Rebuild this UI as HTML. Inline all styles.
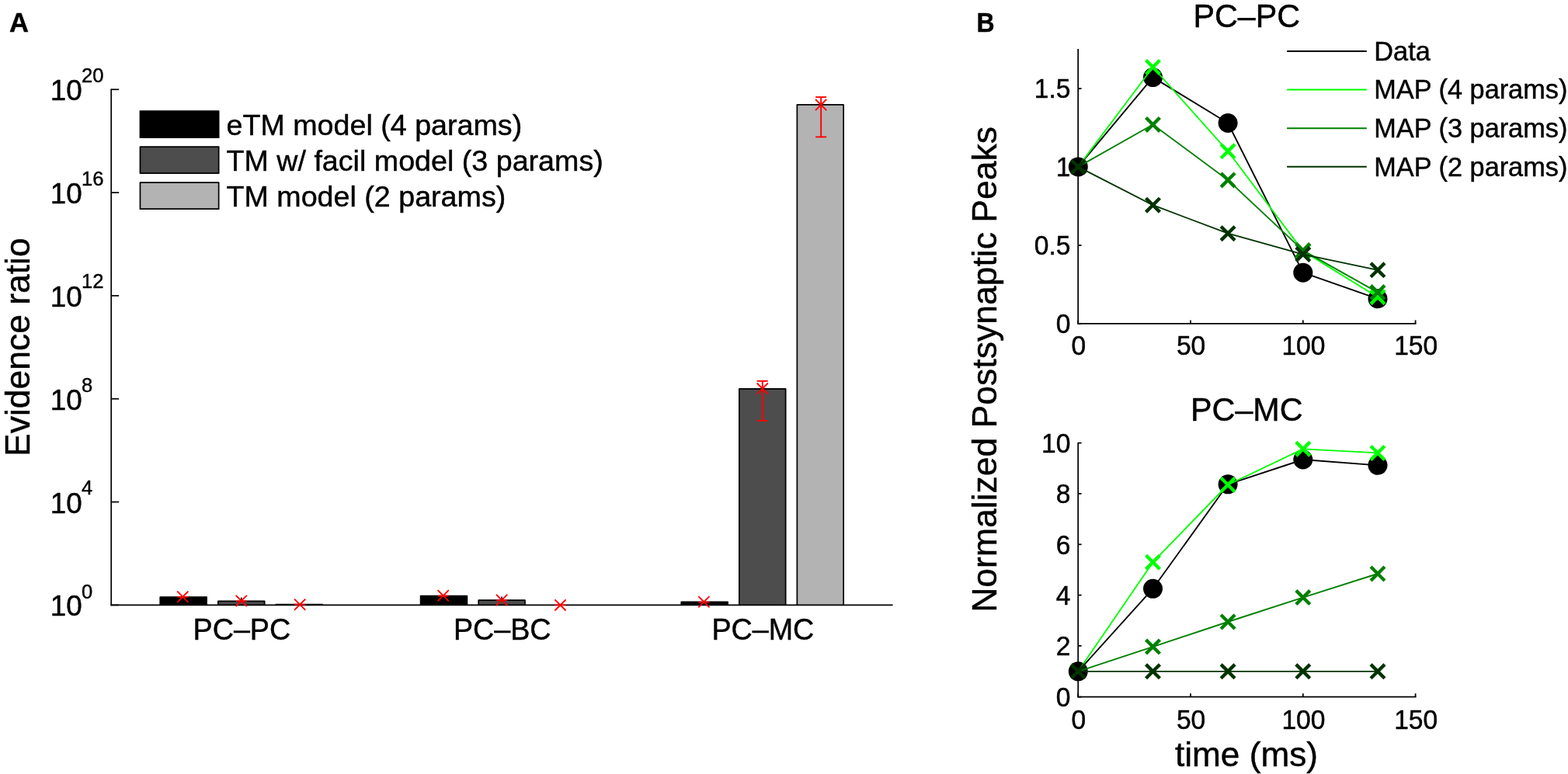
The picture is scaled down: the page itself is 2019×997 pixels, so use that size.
<!DOCTYPE html>
<html lang="en">
<head>
<meta charset="utf-8">
<title>Evidence ratio and MAP fits</title>
<style>
html,body{margin:0;padding:0;background:#fff;}
body{width:2019px;height:997px;overflow:hidden;}
svg{display:block;font-family:'Liberation Sans', sans-serif;fill:#000;}
svg text{fill:#000;stroke:#000;stroke-width:0.45px;}
</style>
</head>
<body>
<svg width="2019" height="997" viewBox="0 0 2019 997">
<rect x="0" y="0" width="2019" height="997" fill="#fff"/>
<text x="12.10" y="41.20" font-size="34.6" text-anchor="start" font-weight="bold">A</text>
<text x="38.10" y="447.10" font-size="44.45" text-anchor="middle" font-weight="normal" transform="rotate(-90 38.10 447.10)">Evidence ratio</text>
<path d="M206.25 779.40L206.25 769.00L266.05 769.00L266.05 779.40" fill="#000000" stroke="#000" stroke-width="1.7" stroke-linejoin="round"/>
<path d="M280.85 779.40L280.85 774.30L340.65 774.30L340.65 779.40" fill="#4d4d4d" stroke="#000" stroke-width="1.7" stroke-linejoin="round"/>
<path d="M355.35 779.40L355.35 778.60L415.15 778.60L415.15 779.40" fill="#b3b3b3" stroke="#000" stroke-width="1.7" stroke-linejoin="round"/>
<path d="M541.60 779.40L541.60 767.70L601.40 767.70L601.40 779.40" fill="#000000" stroke="#000" stroke-width="1.7" stroke-linejoin="round"/>
<path d="M616.20 779.40L616.20 773.20L676.00 773.20L676.00 779.40" fill="#4d4d4d" stroke="#000" stroke-width="1.7" stroke-linejoin="round"/>
<path d="M877.25 779.40L877.25 775.40L937.05 775.40L937.05 779.40" fill="#000000" stroke="#000" stroke-width="1.7" stroke-linejoin="round"/>
<path d="M951.85 779.40L951.85 500.90L1011.65 500.90L1011.65 779.40" fill="#4d4d4d" stroke="#000" stroke-width="1.7" stroke-linejoin="round"/>
<path d="M1026.35 779.40L1026.35 134.95L1086.15 134.95L1086.15 779.40" fill="#b3b3b3" stroke="#000" stroke-width="1.7" stroke-linejoin="round"/>
<line x1="310.75" y1="769.60" x2="310.75" y2="774.00" stroke="#000" stroke-width="1.5" stroke-linecap="butt"/>
<line x1="646.10" y1="768.40" x2="646.10" y2="773.00" stroke="#000" stroke-width="1.5" stroke-linecap="butt"/>
<line x1="143.20" y1="114.40" x2="143.20" y2="780.25" stroke="#000" stroke-width="1.7" stroke-linecap="butt"/>
<line x1="142.35" y1="779.40" x2="1149.60" y2="779.40" stroke="#000" stroke-width="1.7" stroke-linecap="butt"/>
<line x1="143.20" y1="779.40" x2="153.20" y2="779.40" stroke="#000" stroke-width="1.7" stroke-linecap="butt"/>
<text transform="translate(105.6 793.45) scale(1 1.02)" x="0" y="0" font-size="36.8" text-anchor="end">10<tspan x="-0.6" y="-22.40" font-size="25.6" text-anchor="start">0</tspan></text>
<line x1="143.20" y1="646.57" x2="153.20" y2="646.57" stroke="#000" stroke-width="1.7" stroke-linecap="butt"/>
<text transform="translate(105.6 660.62) scale(1 1.02)" x="0" y="0" font-size="36.8" text-anchor="end">10<tspan x="-0.6" y="-23.38" font-size="25.6" text-anchor="start">4</tspan></text>
<line x1="143.20" y1="513.74" x2="153.20" y2="513.74" stroke="#000" stroke-width="1.7" stroke-linecap="butt"/>
<text transform="translate(105.6 527.79) scale(1 1.02)" x="0" y="0" font-size="36.8" text-anchor="end">10<tspan x="-0.6" y="-22.79" font-size="25.6" text-anchor="start">8</tspan></text>
<line x1="143.20" y1="380.91" x2="153.20" y2="380.91" stroke="#000" stroke-width="1.7" stroke-linecap="butt"/>
<text transform="translate(105.6 394.96) scale(1 1.02)" x="0" y="0" font-size="36.8" text-anchor="end">10<tspan x="-0.6" y="-23.09" font-size="25.6" text-anchor="start">12</tspan></text>
<line x1="143.20" y1="248.08" x2="153.20" y2="248.08" stroke="#000" stroke-width="1.7" stroke-linecap="butt"/>
<text transform="translate(105.6 262.13) scale(1 1.02)" x="0" y="0" font-size="36.8" text-anchor="end">10<tspan x="-0.6" y="-22.70" font-size="25.6" text-anchor="start">16</tspan></text>
<line x1="143.20" y1="115.25" x2="153.20" y2="115.25" stroke="#000" stroke-width="1.7" stroke-linecap="butt"/>
<text transform="translate(105.6 129.30) scale(1 1.02)" x="0" y="0" font-size="36.8" text-anchor="end">10<tspan x="-0.6" y="-22.50" font-size="25.6" text-anchor="start">20</tspan></text>
<text transform="translate(311.35 824.0) scale(1 1.03)" x="0" y="0" font-size="37.7" text-anchor="middle">PC–PC</text>
<text transform="translate(646.70 824.0) scale(1 1.03)" x="0" y="0" font-size="37.7" text-anchor="middle">PC–BC</text>
<text transform="translate(982.35 824.0) scale(1 1.03)" x="0" y="0" font-size="37.7" text-anchor="middle">PC–MC</text>
<path d="M228.25 761.60L242.45 775.80M228.25 775.80L242.45 761.60" stroke="#ff0000" stroke-width="1.9" fill="none"/>
<path d="M303.65 766.80L317.85 781.00M303.65 781.00L317.85 766.80" stroke="#ff0000" stroke-width="1.9" fill="none"/>
<path d="M379.05 771.70L393.25 785.90M379.05 785.90L393.25 771.70" stroke="#ff0000" stroke-width="1.9" fill="none"/>
<path d="M563.60 760.20L577.80 774.40M563.60 774.40L577.80 760.20" stroke="#ff0000" stroke-width="1.9" fill="none"/>
<path d="M639.00 765.80L653.20 780.00M639.00 780.00L653.20 765.80" stroke="#ff0000" stroke-width="1.9" fill="none"/>
<path d="M714.40 772.30L728.60 786.50M714.40 786.50L728.60 772.30" stroke="#ff0000" stroke-width="1.9" fill="none"/>
<path d="M899.25 768.20L913.45 782.40M899.25 782.40L913.45 768.20" stroke="#ff0000" stroke-width="1.9" fill="none"/>
<path d="M974.65 493.50L988.85 507.70M974.65 507.70L988.85 493.50" stroke="#ff0000" stroke-width="1.9" fill="none"/>
<path d="M1050.05 128.00L1064.25 142.20M1050.05 142.20L1064.25 128.00" stroke="#ff0000" stroke-width="1.9" fill="none"/>
<line x1="981.75" y1="490.80" x2="981.75" y2="541.80" stroke="#ff0000" stroke-width="1.9" stroke-linecap="butt"/>
<line x1="974.75" y1="490.80" x2="988.75" y2="490.80" stroke="#ff0000" stroke-width="1.9" stroke-linecap="butt"/>
<line x1="974.75" y1="541.80" x2="988.75" y2="541.80" stroke="#ff0000" stroke-width="1.9" stroke-linecap="butt"/>
<line x1="1057.15" y1="125.10" x2="1057.15" y2="176.40" stroke="#ff0000" stroke-width="1.9" stroke-linecap="butt"/>
<line x1="1050.15" y1="125.10" x2="1064.15" y2="125.10" stroke="#ff0000" stroke-width="1.9" stroke-linecap="butt"/>
<line x1="1050.15" y1="176.40" x2="1064.15" y2="176.40" stroke="#ff0000" stroke-width="1.9" stroke-linecap="butt"/>
<line x1="228.45" y1="768.90" x2="242.25" y2="768.90" stroke="#ff0000" stroke-width="1.7" stroke-linecap="butt"/>
<line x1="303.85" y1="774.30" x2="317.65" y2="774.30" stroke="#ff0000" stroke-width="1.7" stroke-linecap="butt"/>
<line x1="379.25" y1="778.60" x2="393.05" y2="778.60" stroke="#ff0000" stroke-width="1.7" stroke-linecap="butt"/>
<line x1="563.80" y1="767.50" x2="577.60" y2="767.50" stroke="#ff0000" stroke-width="1.7" stroke-linecap="butt"/>
<line x1="639.20" y1="773.20" x2="653.00" y2="773.20" stroke="#ff0000" stroke-width="1.7" stroke-linecap="butt"/>
<line x1="714.60" y1="779.30" x2="728.40" y2="779.30" stroke="#ff0000" stroke-width="1.7" stroke-linecap="butt"/>
<line x1="899.45" y1="775.70" x2="913.25" y2="775.70" stroke="#ff0000" stroke-width="1.7" stroke-linecap="butt"/>
<rect x="180.45" y="143.05" width="101.2" height="34.1" fill="#000000" stroke="#000" stroke-width="1.7" stroke-linejoin="round"/>
<text x="291.50" y="173.90" font-size="37.65" text-anchor="start" font-weight="normal">eTM model (4 params)</text>
<rect x="180.45" y="189.05" width="101.2" height="34.1" fill="#4d4d4d" stroke="#000" stroke-width="1.7" stroke-linejoin="round"/>
<text x="291.50" y="219.90" font-size="37.65" text-anchor="start" font-weight="normal">TM w/ facil model (3 params)</text>
<rect x="180.45" y="235.05" width="101.2" height="34.1" fill="#b3b3b3" stroke="#000" stroke-width="1.7" stroke-linejoin="round"/>
<text x="291.50" y="265.90" font-size="37.65" text-anchor="start" font-weight="normal">TM model (2 params)</text>
<line x1="1388.20" y1="63.00" x2="1388.20" y2="417.68" stroke="#000" stroke-width="1.75" stroke-linecap="butt"/>
<line x1="1387.33" y1="416.80" x2="1823.47" y2="416.80" stroke="#000" stroke-width="1.75" stroke-linecap="butt"/>
<line x1="1388.20" y1="416.80" x2="1392.60" y2="416.80" stroke="#000" stroke-width="1.75" stroke-linecap="butt"/>
<text transform="translate(1378.4 429.00) scale(1 1.03)" x="0" y="0" font-size="33.6" text-anchor="end">0</text>
<line x1="1388.20" y1="316.00" x2="1392.60" y2="316.00" stroke="#000" stroke-width="1.75" stroke-linecap="butt"/>
<text transform="translate(1378.4 328.20) scale(1 1.03)" x="0" y="0" font-size="33.6" text-anchor="end">0.5</text>
<line x1="1388.20" y1="215.00" x2="1392.60" y2="215.00" stroke="#000" stroke-width="1.75" stroke-linecap="butt"/>
<text transform="translate(1378.4 227.20) scale(1 1.03)" x="0" y="0" font-size="33.6" text-anchor="end">1</text>
<line x1="1388.20" y1="114.10" x2="1392.60" y2="114.10" stroke="#000" stroke-width="1.75" stroke-linecap="butt"/>
<text transform="translate(1378.4 126.30) scale(1 1.03)" x="0" y="0" font-size="33.6" text-anchor="end">1.5</text>
<line x1="1388.20" y1="416.80" x2="1388.20" y2="412.40" stroke="#000" stroke-width="1.75" stroke-linecap="butt"/>
<text transform="translate(1388.80 456.80) scale(1 1.03)" x="0" y="0" font-size="33.6" text-anchor="middle">0</text>
<line x1="1533.00" y1="416.80" x2="1533.00" y2="412.40" stroke="#000" stroke-width="1.75" stroke-linecap="butt"/>
<text transform="translate(1533.60 456.80) scale(1 1.03)" x="0" y="0" font-size="33.6" text-anchor="middle">50</text>
<line x1="1677.80" y1="416.80" x2="1677.80" y2="412.40" stroke="#000" stroke-width="1.75" stroke-linecap="butt"/>
<text transform="translate(1678.40 456.80) scale(1 1.03)" x="0" y="0" font-size="33.6" text-anchor="middle">100</text>
<line x1="1822.60" y1="416.80" x2="1822.60" y2="412.40" stroke="#000" stroke-width="1.75" stroke-linecap="butt"/>
<text transform="translate(1823.20 456.80) scale(1 1.03)" x="0" y="0" font-size="33.6" text-anchor="middle">150</text>
<text transform="translate(1605.3 35.30) scale(1 1.045)" x="0" y="0" font-size="41.3" text-anchor="middle">PC–PC</text>
<polyline points="1388.30,214.90 1484.50,99.60 1581.10,158.50 1677.80,351.20 1774.00,384.80" fill="none" stroke="#000" stroke-width="1.85" stroke-linejoin="round"/>
<circle cx="1388.30" cy="214.90" r="12.5" fill="#000"/>
<circle cx="1484.50" cy="99.60" r="12.5" fill="#000"/>
<circle cx="1581.10" cy="158.50" r="12.5" fill="#000"/>
<circle cx="1677.80" cy="351.20" r="12.5" fill="#000"/>
<circle cx="1774.00" cy="384.80" r="12.5" fill="#000"/>
<polyline points="1388.30,214.90 1484.50,86.50 1581.10,194.80 1677.80,323.40 1774.00,382.70" fill="none" stroke="#00ff00" stroke-width="1.85" stroke-linejoin="round"/>
<path d="M1475.55 77.55L1493.45 95.45M1475.55 95.45L1493.45 77.55" stroke="#00ff00" stroke-width="4.4" fill="none"/>
<path d="M1572.15 185.85L1590.05 203.75M1572.15 203.75L1590.05 185.85" stroke="#00ff00" stroke-width="4.4" fill="none"/>
<path d="M1668.85 314.45L1686.75 332.35M1668.85 332.35L1686.75 314.45" stroke="#00ff00" stroke-width="4.4" fill="none"/>
<path d="M1765.05 373.75L1782.95 391.65M1765.05 391.65L1782.95 373.75" stroke="#00ff00" stroke-width="4.4" fill="none"/>
<polyline points="1388.30,214.90 1484.50,160.50 1581.10,231.90 1677.80,322.60 1774.00,376.60" fill="none" stroke="#008000" stroke-width="1.85" stroke-linejoin="round"/>
<path d="M1475.55 151.55L1493.45 169.45M1475.55 169.45L1493.45 151.55" stroke="#008000" stroke-width="4.4" fill="none"/>
<path d="M1572.15 222.95L1590.05 240.85M1572.15 240.85L1590.05 222.95" stroke="#008000" stroke-width="4.4" fill="none"/>
<path d="M1668.85 313.65L1686.75 331.55M1668.85 331.55L1686.75 313.65" stroke="#008000" stroke-width="4.4" fill="none"/>
<path d="M1765.05 367.65L1782.95 385.55M1765.05 385.55L1782.95 367.65" stroke="#008000" stroke-width="4.4" fill="none"/>
<polyline points="1388.30,214.90 1484.50,264.20 1581.10,300.70 1677.80,327.60 1774.00,347.80" fill="none" stroke="#003300" stroke-width="1.85" stroke-linejoin="round"/>
<path d="M1379.35 205.95L1397.25 223.85M1379.35 223.85L1397.25 205.95" stroke="#003300" stroke-width="4.4" fill="none"/>
<path d="M1475.55 255.25L1493.45 273.15M1475.55 273.15L1493.45 255.25" stroke="#003300" stroke-width="4.4" fill="none"/>
<path d="M1572.15 291.75L1590.05 309.65M1572.15 309.65L1590.05 291.75" stroke="#003300" stroke-width="4.4" fill="none"/>
<path d="M1668.85 318.65L1686.75 336.55M1668.85 336.55L1686.75 318.65" stroke="#003300" stroke-width="4.4" fill="none"/>
<path d="M1765.05 338.85L1782.95 356.75M1765.05 356.75L1782.95 338.85" stroke="#003300" stroke-width="4.4" fill="none"/>
<line x1="1388.20" y1="569.90" x2="1388.20" y2="898.58" stroke="#000" stroke-width="1.75" stroke-linecap="butt"/>
<line x1="1387.33" y1="897.70" x2="1823.47" y2="897.70" stroke="#000" stroke-width="1.75" stroke-linecap="butt"/>
<line x1="1388.20" y1="897.70" x2="1392.60" y2="897.70" stroke="#000" stroke-width="1.75" stroke-linecap="butt"/>
<text transform="translate(1378.4 909.90) scale(1 1.03)" x="0" y="0" font-size="33.6" text-anchor="end">0</text>
<line x1="1388.20" y1="831.90" x2="1392.60" y2="831.90" stroke="#000" stroke-width="1.75" stroke-linecap="butt"/>
<text transform="translate(1378.4 844.10) scale(1 1.03)" x="0" y="0" font-size="33.6" text-anchor="end">2</text>
<line x1="1388.20" y1="766.60" x2="1392.60" y2="766.60" stroke="#000" stroke-width="1.75" stroke-linecap="butt"/>
<text transform="translate(1378.4 778.80) scale(1 1.03)" x="0" y="0" font-size="33.6" text-anchor="end">4</text>
<line x1="1388.20" y1="701.30" x2="1392.60" y2="701.30" stroke="#000" stroke-width="1.75" stroke-linecap="butt"/>
<text transform="translate(1378.4 713.50) scale(1 1.03)" x="0" y="0" font-size="33.6" text-anchor="end">6</text>
<line x1="1388.20" y1="635.90" x2="1392.60" y2="635.90" stroke="#000" stroke-width="1.75" stroke-linecap="butt"/>
<text transform="translate(1378.4 648.10) scale(1 1.03)" x="0" y="0" font-size="33.6" text-anchor="end">8</text>
<line x1="1388.20" y1="570.60" x2="1392.60" y2="570.60" stroke="#000" stroke-width="1.75" stroke-linecap="butt"/>
<text transform="translate(1378.4 582.80) scale(1 1.03)" x="0" y="0" font-size="33.6" text-anchor="end">10</text>
<line x1="1388.20" y1="897.70" x2="1388.20" y2="893.30" stroke="#000" stroke-width="1.75" stroke-linecap="butt"/>
<text transform="translate(1388.80 939.00) scale(1 1.03)" x="0" y="0" font-size="33.6" text-anchor="middle">0</text>
<line x1="1533.00" y1="897.70" x2="1533.00" y2="893.30" stroke="#000" stroke-width="1.75" stroke-linecap="butt"/>
<text transform="translate(1533.60 939.00) scale(1 1.03)" x="0" y="0" font-size="33.6" text-anchor="middle">50</text>
<line x1="1677.80" y1="897.70" x2="1677.80" y2="893.30" stroke="#000" stroke-width="1.75" stroke-linecap="butt"/>
<text transform="translate(1678.40 939.00) scale(1 1.03)" x="0" y="0" font-size="33.6" text-anchor="middle">100</text>
<line x1="1822.60" y1="897.70" x2="1822.60" y2="893.30" stroke="#000" stroke-width="1.75" stroke-linecap="butt"/>
<text transform="translate(1823.20 939.00) scale(1 1.03)" x="0" y="0" font-size="33.6" text-anchor="middle">150</text>
<text transform="translate(1605.3 541.80) scale(1 1.045)" x="0" y="0" font-size="41.3" text-anchor="middle">PC–MC</text>
<polyline points="1388.30,864.80 1484.50,758.30 1581.10,623.80 1677.80,592.00 1774.00,599.30" fill="none" stroke="#000" stroke-width="1.85" stroke-linejoin="round"/>
<circle cx="1388.30" cy="864.80" r="12.5" fill="#000"/>
<circle cx="1484.50" cy="758.30" r="12.5" fill="#000"/>
<circle cx="1581.10" cy="623.80" r="12.5" fill="#000"/>
<circle cx="1677.80" cy="592.00" r="12.5" fill="#000"/>
<circle cx="1774.00" cy="599.30" r="12.5" fill="#000"/>
<polyline points="1388.30,864.80 1484.50,724.20 1581.10,624.50 1677.80,578.30 1774.00,583.40" fill="none" stroke="#00ff00" stroke-width="1.85" stroke-linejoin="round"/>
<path d="M1475.55 715.25L1493.45 733.15M1475.55 733.15L1493.45 715.25" stroke="#00ff00" stroke-width="4.4" fill="none"/>
<path d="M1572.15 615.55L1590.05 633.45M1572.15 633.45L1590.05 615.55" stroke="#00ff00" stroke-width="4.4" fill="none"/>
<path d="M1668.85 569.35L1686.75 587.25M1668.85 587.25L1686.75 569.35" stroke="#00ff00" stroke-width="4.4" fill="none"/>
<path d="M1765.05 574.45L1782.95 592.35M1765.05 592.35L1782.95 574.45" stroke="#00ff00" stroke-width="4.4" fill="none"/>
<polyline points="1388.30,864.80 1484.50,833.10 1581.10,801.00 1677.80,769.60 1774.00,739.00" fill="none" stroke="#008000" stroke-width="1.85" stroke-linejoin="round"/>
<path d="M1475.55 824.15L1493.45 842.05M1475.55 842.05L1493.45 824.15" stroke="#008000" stroke-width="4.4" fill="none"/>
<path d="M1572.15 792.05L1590.05 809.95M1572.15 809.95L1590.05 792.05" stroke="#008000" stroke-width="4.4" fill="none"/>
<path d="M1668.85 760.65L1686.75 778.55M1668.85 778.55L1686.75 760.65" stroke="#008000" stroke-width="4.4" fill="none"/>
<path d="M1765.05 730.05L1782.95 747.95M1765.05 747.95L1782.95 730.05" stroke="#008000" stroke-width="4.4" fill="none"/>
<polyline points="1388.30,864.80 1484.50,864.80 1581.10,864.80 1677.80,864.80 1774.00,864.80" fill="none" stroke="#003300" stroke-width="1.85" stroke-linejoin="round"/>
<path d="M1379.35 855.85L1397.25 873.75M1379.35 873.75L1397.25 855.85" stroke="#003300" stroke-width="4.4" fill="none"/>
<path d="M1475.55 855.85L1493.45 873.75M1475.55 873.75L1493.45 855.85" stroke="#003300" stroke-width="4.4" fill="none"/>
<path d="M1572.15 855.85L1590.05 873.75M1572.15 873.75L1590.05 855.85" stroke="#003300" stroke-width="4.4" fill="none"/>
<path d="M1668.85 855.85L1686.75 873.75M1668.85 873.75L1686.75 855.85" stroke="#003300" stroke-width="4.4" fill="none"/>
<path d="M1765.05 855.85L1782.95 873.75M1765.05 873.75L1782.95 855.85" stroke="#003300" stroke-width="4.4" fill="none"/>
<text transform="translate(1257.45 40.55) scale(0.935 1)" x="0" y="0" font-size="34.2" font-weight="bold">B</text>
<text x="1282.60" y="475.90" font-size="44.5" text-anchor="middle" font-weight="normal" transform="rotate(-90 1282.60 475.90)">Normalized Postsynaptic Peaks</text>
<text x="1605.00" y="987.30" font-size="44.2" text-anchor="middle" font-weight="normal">time (ms)</text>
<line x1="1657.10" y1="65.90" x2="1759.80" y2="65.90" stroke="#000" stroke-width="2.0" stroke-linecap="butt"/>
<text x="1769.30" y="77.60" font-size="34.3" text-anchor="start" font-weight="normal">Data</text>
<line x1="1657.10" y1="115.55" x2="1759.80" y2="115.55" stroke="#00ff00" stroke-width="2.0" stroke-linecap="butt"/>
<text x="1769.30" y="127.25" font-size="34.3" text-anchor="start" font-weight="normal">MAP (4 params)</text>
<line x1="1657.10" y1="165.20" x2="1759.80" y2="165.20" stroke="#008000" stroke-width="2.0" stroke-linecap="butt"/>
<text x="1769.30" y="176.90" font-size="34.3" text-anchor="start" font-weight="normal">MAP (3 params)</text>
<line x1="1657.10" y1="214.85" x2="1759.80" y2="214.85" stroke="#003300" stroke-width="2.0" stroke-linecap="butt"/>
<text x="1769.30" y="226.55" font-size="34.3" text-anchor="start" font-weight="normal">MAP (2 params)</text>
</svg>
</body>
</html>
